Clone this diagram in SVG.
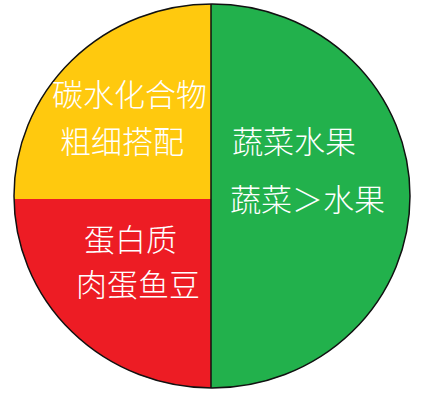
<svg xmlns="http://www.w3.org/2000/svg" width="438" height="401" viewBox="0 0 438 401">
<style>
.t{font-family:"Noto Sans CJK SC","Noto Sans CJK JP",sans-serif;font-size:31px;fill:#fff;font-weight:300}
.s{stroke:#111;stroke-width:1.5}
</style>
<defs>
<clipPath id="c"><ellipse cx="212" cy="196" rx="198" ry="192"/></clipPath>
</defs>
<rect width="438" height="401" fill="#fff"/>
<g id="pie" clip-path="url(#c)">
<rect id="green" x="211" y="0" width="227" height="401" fill="#22B14C"/>
<rect id="yellow" x="0" y="0" width="211" height="199" fill="#FFC90E"/>
<rect id="red" x="0" y="199" width="211" height="202" fill="#ED1C24"/>
</g>
<g id="lines">
<ellipse cx="212" cy="196" rx="198" ry="192" fill="none" class="s"/>
<line x1="211" y1="4" x2="211" y2="388" class="s"/>
</g>
<g id="labels">
<text class="t" x="52" y="106">碳水化合物</text>
<text class="t" x="60" y="153">粗细搭配</text>
<text class="t" x="232" y="153">蔬菜水果</text>
<text class="t" x="230" y="211">蔬菜＞水果</text>
<text class="t" x="84" y="251">蛋白质</text>
<text class="t" x="76" y="296">肉蛋鱼豆</text>
</g>
</svg>
